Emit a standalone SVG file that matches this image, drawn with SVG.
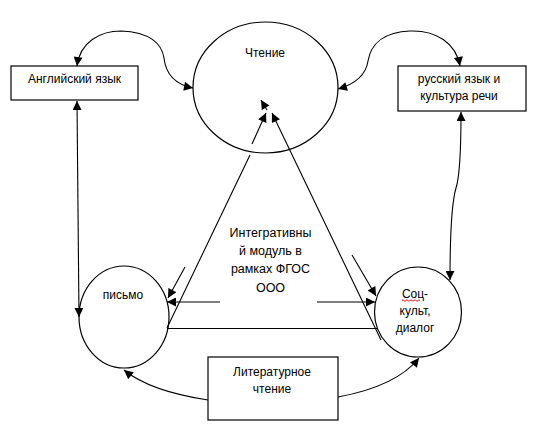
<svg xmlns="http://www.w3.org/2000/svg" width="540" height="443" viewBox="0 0 540 443">
<style>
.n{fill:#fff;stroke:#000;stroke-width:1.2}
.c{fill:none;stroke:#000;stroke-width:1.1}
.t{font-family:"Liberation Sans",Arial,sans-serif;font-size:12px;fill:#000;text-anchor:middle}
.m{font-size:12.5px}
.a{marker-end:url(#ar)}
.b{marker-start:url(#ar);marker-end:url(#ar)}
</style>
<defs>
<marker id="ar" viewBox="0 0 10 10" refX="10" refY="5" markerWidth="10" markerHeight="9" markerUnits="userSpaceOnUse" orient="auto-start-reverse">
<path d="M0,0 L10,5 L0,10 z" fill="#000"/>
</marker>
</defs>
<rect width="540" height="443" fill="#fff"/>
<g id="connectors">
<path class="c b" d="M77,66 C80,42 100,31 121,31 C150,32 162,44 164,58 C166,76 178,85 193,88"/>
<path class="c b" d="M338,89 C355,84 366,75 368,61 C371,43 385,32 410,31 C436,30 456,43 460,66"/>
<path class="c b" d="M77,101 L79,317"/>
<path class="c b" d="M461,112 C461,150 460,176 456,188 C451,205 450,240 450,280"/>
<path class="c a" d="M208,400 C175,395 145,387 124,370"/>
<path class="c a" d="M338,397 C365,392 400,382 419,358"/>
<path class="c" d="M167,328 L250,155"/>
<path class="c a" d="M252,144 L266,113"/>
<path class="c a" d="M267,110 L261,100"/>
<path class="c a" d="M381,340 L272,113"/>
<path class="c a" d="M352,255 L376,296"/>
<path class="c a" d="M317,302 L375,302"/>
<path class="c a" d="M185,267 L168,298"/>
<path class="c a" d="M220,302 L167,302"/>
<path class="c" d="M167,328.5 L377,328.5"/>
</g>
<g id="node-chtenie">
<ellipse class="n" cx="265.5" cy="87.5" rx="72.5" ry="65.5" style="fill:none"/>
<text class="t" x="265" y="57">Чтение</text>
</g>
<g id="node-english">
<rect class="n" x="11" y="66" width="127" height="34"/>
<text class="t" x="74.5" y="83">Английский язык</text>
</g>
<g id="node-russian">
<rect class="n" x="398" y="66" width="128" height="45"/>
<text class="t" x="459" y="83">русский язык и</text>
<text class="t" x="459" y="100">культура речи</text>
</g>
<g id="node-pismo">
<ellipse class="n" cx="124" cy="317" rx="45" ry="51" style="fill:none"/>
<text class="t" x="123" y="299">письмо</text>
</g>
<g id="node-soc">
<ellipse class="n" cx="418" cy="312" rx="43.5" ry="45" style="fill:none"/>
<text class="t" x="415" y="298">Соц-</text>
<path d="M402,300.5 q1,-1.4 2,0 t2,0 t2,0 t2,0 t2,0 t2,0 t2,0 t2,0 t2,0" fill="none" stroke="#e00000" stroke-width="0.9"/>
<text class="t" x="415" y="315">культ,</text>
<text class="t" x="415" y="332">диалог</text>
</g>
<g id="node-module">
<text class="t m" x="270.5" y="237">Интегративны</text>
<text class="t m" x="270.5" y="255">й модуль в</text>
<text class="t m" x="270.5" y="273">рамках ФГОС</text>
<text class="t m" x="270.5" y="292">ООО</text>
</g>
<g id="node-lit">
<rect class="n" x="208" y="357" width="130" height="63"/>
<text class="t" x="272" y="376">Литературное</text>
<text class="t" x="272" y="393">чтение</text>
</g>
</svg>
